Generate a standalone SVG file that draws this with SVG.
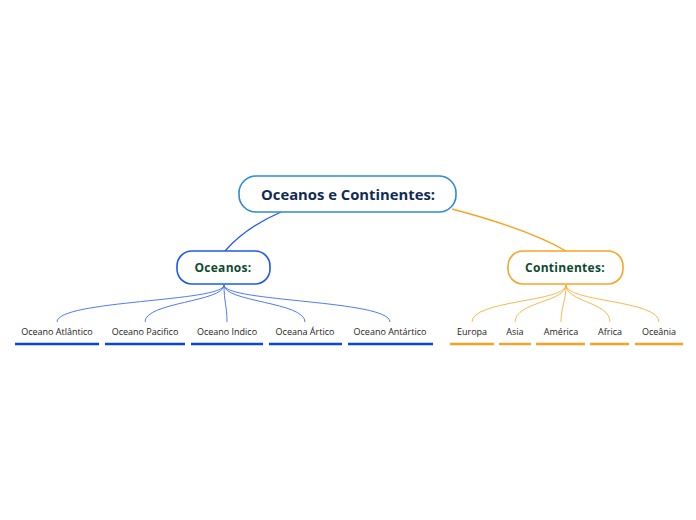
<svg xmlns="http://www.w3.org/2000/svg" width="696" height="520" viewBox="0 0 696 520">
<style>
text{font-family:"Open Sans","Noto Sans","Liberation Sans",sans-serif;text-anchor:middle}
.box{fill:#fff;stroke-width:1.6}
.title{font-size:14.8px;font-weight:bold;fill:#102a56}
.main{font-size:12px;font-weight:bold;fill:#0d4a30;letter-spacing:0.3px}
.leaf{font-size:9px;fill:#222}
.bl{fill:none;stroke:#3a6cf5;stroke-width:0.9}
.ol{fill:none;stroke:#f9b03a;stroke-width:0.9}
.bu{stroke:#0a46dc;stroke-width:2.4}
.ou{stroke:#f7a127;stroke-width:2.4}
</style>
<rect width="696" height="520" fill="#fff"/>
<g id="connectors">
<path d="M281,212 C258,222 238,236 225,251" fill="none" stroke="#1f58f0" stroke-width="1.3"/>
<path d="M452,209 C490,219 535,233 566,251" fill="none" stroke="#f9a326" stroke-width="1.3"/>
<path class="bl" d="M224,285 C224,302 57,300 57,322"/>
<path class="bl" d="M224,285 C224,302 145,302 145,322"/>
<path class="bl" d="M224,285 C224,302 227,306 227,322"/>
<path class="bl" d="M224,285 C224,302 305,302 305,322"/>
<path class="bl" d="M224,285 C224,302 390,300 390,322"/>
<path class="ol" d="M566,285 C566,302 472,300 472,322"/>
<path class="ol" d="M566,285 C566,302 515,302 515,322"/>
<path class="ol" d="M566,285 C566,302 561,306 561,322"/>
<path class="ol" d="M566,285 C566,302 610,302 610,322"/>
<path class="ol" d="M566,285 C566,302 659,300 659,322"/>
</g>
<g id="root">
<rect class="box" x="239" y="176" width="217" height="36" rx="17" stroke="#2f8ad6"/>
<text class="title" x="348" y="199.5">Oceanos e Continentes:</text>
</g>
<g id="oceanos">
<rect class="box" x="177" y="251" width="93" height="33" rx="15" stroke="#1f58f0"/>
<text class="main" x="223" y="272">Oceanos:</text>
</g>
<g id="continentes">
<rect class="box" x="508" y="251" width="115" height="33" rx="15" stroke="#f9a326"/>
<text class="main" x="565" y="272">Continentes:</text>
</g>
<g id="atlantico"><text class="leaf" x="57" y="335">Oceano Atlântico</text><line class="bu" x1="15" y1="344" x2="99" y2="344"/></g>
<g id="pacifico"><text class="leaf" x="145" y="335">Oceano Pacifico</text><line class="bu" x1="105" y1="344" x2="185" y2="344"/></g>
<g id="indico"><text class="leaf" x="227" y="335">Oceano Indico</text><line class="bu" x1="191" y1="344" x2="263" y2="344"/></g>
<g id="artico"><text class="leaf" x="305" y="335">Oceana Ártico</text><line class="bu" x1="269" y1="344" x2="342" y2="344"/></g>
<g id="antartico"><text class="leaf" x="390" y="335">Oceano Antártico</text><line class="bu" x1="348" y1="344" x2="433" y2="344"/></g>
<g id="europa"><text class="leaf" x="472" y="335">Europa</text><line class="ou" x1="450" y1="344" x2="494" y2="344"/></g>
<g id="asia"><text class="leaf" x="515" y="335">Asia</text><line class="ou" x1="499" y1="344" x2="531" y2="344"/></g>
<g id="america"><text class="leaf" x="561" y="335">América</text><line class="ou" x1="536" y1="344" x2="585" y2="344"/></g>
<g id="africa"><text class="leaf" x="610" y="335">Africa</text><line class="ou" x1="590" y1="344" x2="629" y2="344"/></g>
<g id="oceania"><text class="leaf" x="659" y="335">Oceânia</text><line class="ou" x1="635" y1="344" x2="683" y2="344"/></g>
</svg>
